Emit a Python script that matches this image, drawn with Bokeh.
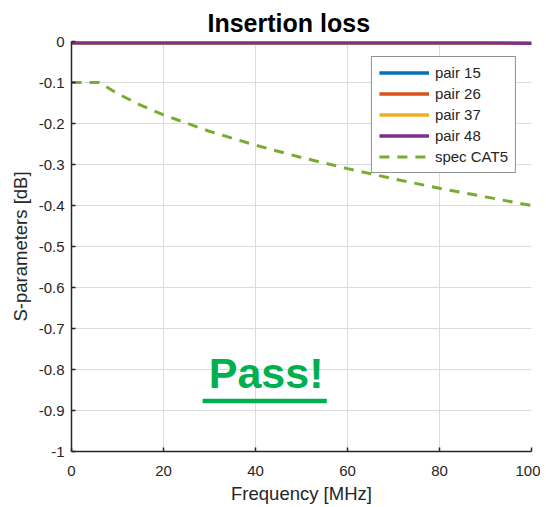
from bokeh.plotting import figure
from bokeh.models import FixedTicker, Range1d, Legend, LegendItem, CustomJSTickFormatter
from bokeh.core.properties import value
from bokeh.embed import file_html
from bokeh.resources import INLINE

# ---- data ----
freq_pairs = [0, 10, 20, 30, 40, 50, 60, 70, 80, 90, 100]
pair15 = [-0.003, -0.003, -0.003, -0.003, -0.003, -0.003, -0.003, -0.003, -0.003, -0.003, -0.004]
pair26 = [-0.003, -0.003, -0.003, -0.003, -0.003, -0.003, -0.003, -0.003, -0.003, -0.003, -0.004]
pair37 = [-0.003, -0.003, -0.003, -0.003, -0.003, -0.003, -0.003, -0.003, -0.003, -0.003, -0.004]
pair48 = [-0.003, -0.003, -0.003, -0.003, -0.003, -0.003, -0.003, -0.003, -0.003, -0.003, -0.004]

freq_spec = [0, 6, 10, 15, 20, 30, 40, 50, 60, 70, 80, 90, 100]
spec_cat5 = [-0.10, -0.10, -0.127, -0.155, -0.179, -0.219, -0.253, -0.283, -0.31, -0.335, -0.358, -0.379, -0.40]

x_ticks = [0, 20, 40, 60, 80, 100]
y_ticks = [0, -0.1, -0.2, -0.3, -0.4, -0.5, -0.6, -0.7, -0.8, -0.9, -1]

series_names = ["pair 15", "pair 26", "pair 37", "pair 48"]
series_colors = ["#0072BD", "#D95319", "#EDB120", "#7E2F8E"]
spec_name = "spec CAT5"
spec_color = "#77AC30"

pass_text = "Pass!"
pass_x = 42.3
pass_y = -0.808
underline_x0 = 28.5
underline_x1 = 55.5
underline_y = -0.877

FONT = "Liberation Sans"
DARK = "#262626"

p = figure(width=540, height=506, output_backend="svg", toolbar_location=None,
           x_range=Range1d(0, 100), y_range=Range1d(-1, 0),
           min_border_left=71, min_border_right=9, min_border_top=41, min_border_bottom=54)

p.title.text = "Insertion loss"
p.title.align = "left"
p.title.offset = 136
p.title.text_font = FONT
p.title.text_font_size = "25px"
p.title.text_font_style = "bold"
p.title.text_color = "#000000"
p.outline_line_color = None
p.background_fill_color = "white"
p.border_fill_color = "white"

for ax in (p.xaxis[0], p.yaxis[0]):
    ax.axis_line_color = DARK
    ax.axis_line_width = 1.5
    ax.major_tick_line_color = DARK
    ax.major_tick_line_width = 1.5
    ax.major_tick_in = 4
    ax.major_tick_out = 0
    ax.minor_tick_line_color = None
    ax.major_label_text_font = FONT
    ax.major_label_text_font_size = "15px"
    ax.major_label_text_color = DARK
    ax.axis_label_text_font = FONT
    ax.axis_label_text_font_size = "18.5px"
    ax.axis_label_text_font_style = "normal"
    ax.axis_label_text_color = DARK

p.xaxis.ticker = FixedTicker(ticks=x_ticks)
p.yaxis.ticker = FixedTicker(ticks=y_ticks)
p.yaxis.formatter = CustomJSTickFormatter(code="return (Math.round(tick*10)/10).toString();")
p.xaxis.axis_label = "Frequency [MHz]"
p.yaxis.axis_label = "S-parameters [dB]"
p.xaxis.major_label_standoff = 14
p.yaxis.major_label_standoff = 7
p.xaxis.axis_label_standoff = 4
p.yaxis.axis_label_standoff = 5

p.xgrid.ticker = FixedTicker(ticks=x_ticks)
p.ygrid.ticker = FixedTicker(ticks=y_ticks)
p.grid.grid_line_color = "#dcdcdc"
p.grid.grid_line_width = 1

items = []
for name, ys, col in zip(series_names, [pair15, pair26, pair37, pair48], series_colors):
    r = p.line(freq_pairs, ys, line_color=col, line_width=3.5)
    items.append(LegendItem(label=name, renderers=[r]))
rs = p.line(freq_spec, spec_cat5, line_color=spec_color, line_width=3, line_dash="10 8")
items.append(LegendItem(label=spec_name, renderers=[rs]))

# Pass! annotation with underline
p.text([pass_x], [pass_y], text=[pass_text], text_font=value(FONT), text_font_size="43px",
       text_font_style="bold", text_color="#00B050", text_align="center", text_baseline="middle")
p.segment([underline_x0], [underline_y], [underline_x1], [underline_y],
          line_color="#00B050", line_width=4.5)

legend = Legend(items=items, location="top_right", margin=15, padding=7,
                border_line_color=DARK, border_line_width=1.5,
                label_text_font=FONT, label_text_font_size="15px", label_text_color=DARK,
                glyph_width=50, glyph_height=15, label_standoff=6, spacing=4, label_height=15,
                background_fill_color="white", background_fill_alpha=1)
p.add_layout(legend, "center")

open("out.html", "w").write(file_html(p, INLINE))
